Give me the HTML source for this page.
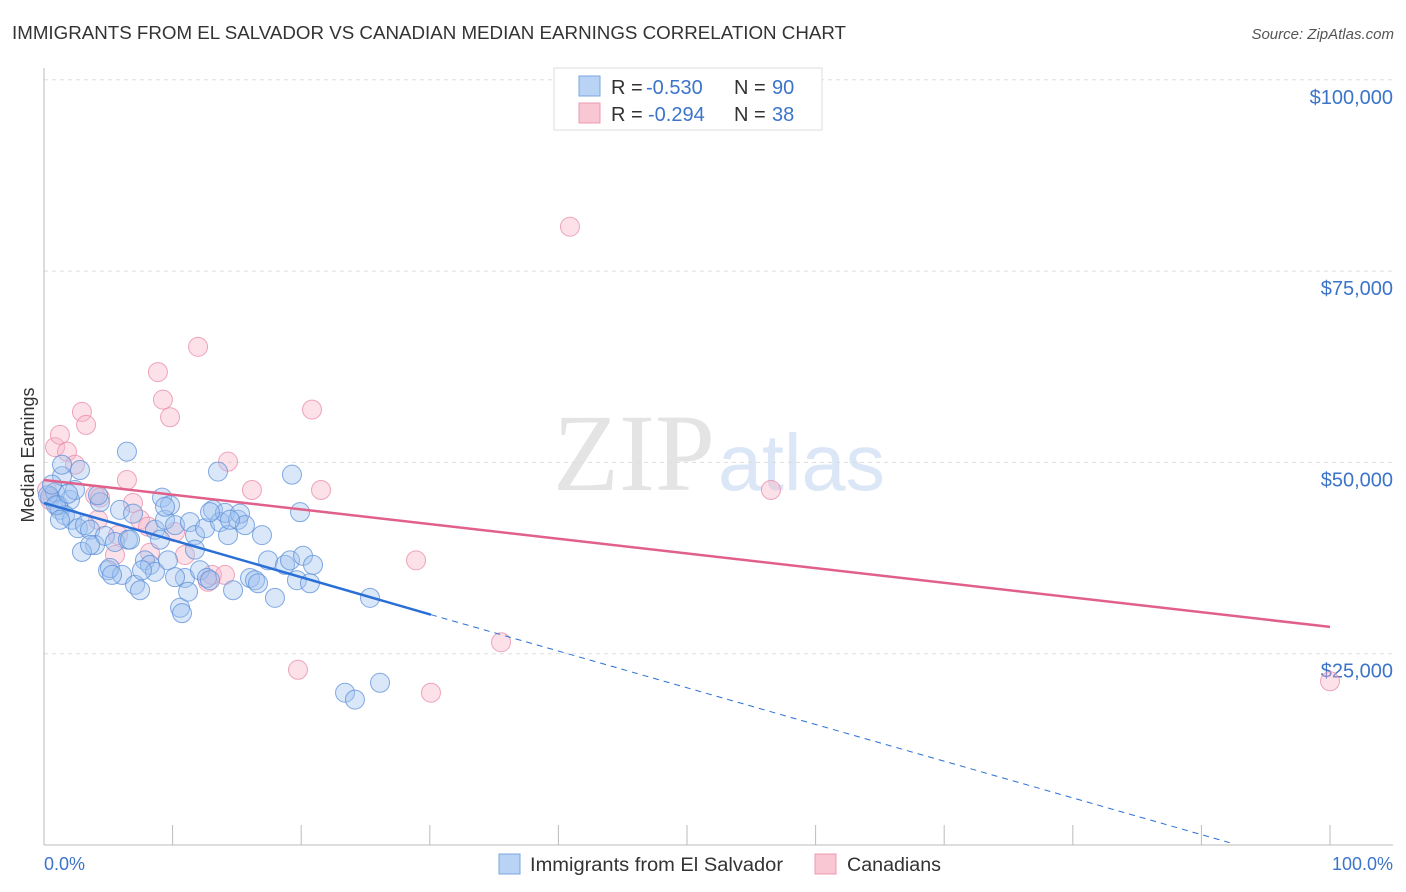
<!DOCTYPE html>
<html><head><meta charset="utf-8"><style>
body{margin:0;background:#fff;font-family:"Liberation Sans",sans-serif}
svg{display:block}
</style></head><body>
<svg id="chart" width="1406" height="892">
<text x="12" y="39" font-size="18" textLength="834" lengthAdjust="spacingAndGlyphs" fill="#333">IMMIGRANTS FROM EL SALVADOR VS CANADIAN MEDIAN EARNINGS CORRELATION CHART</text>
<text x="1394" y="39" font-size="15" fill="#555" font-style="italic" text-anchor="end">Source: ZipAtlas.com</text>
<g>
<text x="553" y="490" font-family="Liberation Serif,serif" font-size="110" textLength="162" lengthAdjust="spacingAndGlyphs" fill="#e4e4e4">ZIP</text>
<text x="718" y="490" font-size="80" textLength="167" lengthAdjust="spacingAndGlyphs" fill="#dbe6f6">atlas</text>
</g>
<g id="grid"></g>
<g id="yticks"></g>
<g id="xaxis"></g>
<text transform="translate(34,455) rotate(-90)" font-size="18" fill="#333" text-anchor="middle">Median Earnings</text>
<g id="pts"></g>
<g id="lines"></g>
<g>
<rect x="554" y="68" width="268" height="62" fill="#fff" stroke="#ddd"/>
<rect x="579" y="76" width="21" height="20" fill="#b9d3f5" stroke="#7aa6e3"/>
<text x="611" y="94" font-size="20" fill="#333">R = <tspan x="646" fill="#3b74c9">-0.530</tspan><tspan x="734">N = </tspan><tspan x="772" fill="#3b74c9">90</tspan></text>
<rect x="579" y="103" width="21" height="20" fill="#f9c6d4" stroke="#eb9ab2"/>
<text x="611" y="121" font-size="20" fill="#333">R = <tspan x="648" fill="#3b74c9">-0.294</tspan><tspan x="734">N = </tspan><tspan x="772" fill="#3b74c9">38</tspan></text>
</g>
<g>
<rect x="499" y="854" width="21" height="20" fill="#b9d3f5" stroke="#7aa6e3"/>
<text x="530" y="871" font-size="19" textLength="253" lengthAdjust="spacingAndGlyphs" fill="#333">Immigrants from El Salvador</text>
<rect x="815" y="854" width="21" height="20" fill="#f9c6d4" stroke="#eb9ab2"/>
<text x="847" y="871" font-size="19" textLength="94" lengthAdjust="spacingAndGlyphs" fill="#333">Canadians</text>
</g>
</svg>
<script>
const yTicks=[25000,50000,75000,100000];
const yTickLabels=["$25,000","$50,000","$75,000","$100,000"];
const xTicks=[0,10,20,30,40,50,60,70,80,90,100];
const blueX=[0.47,0.86,1.24,1.40,2.02,2.41,2.80,1.09,1.63,2.18,2.64,3.19,3.58,3.97,2.95,4.35,4.74,4.98,5.13,5.52,5.91,6.45,6.07,6.53,6.92,7.08,7.47,7.85,8.24,8.63,8.63,9.02,9.18,9.41,9.64,9.80,10.19,10.58,10.73,10.96,11.20,11.35,11.74,11.74,12.13,12.52,12.67,12.91,13.14,13.53,13.69,14.07,14.31,14.70,15.09,15.24,15.63,16.02,16.41,16.64,16.95,17.42,17.96,18.74,19.13,19.28,19.67,19.91,20.14,20.68,20.92,23.41,24.18,25.35,26.13,0.31,0.62,0.93,1.40,3.58,4.20,5.29,7.62,10.19,12.91,1.24,1.87,6.69,9.41,14.46];
const blueY=[45.5,46.1,43.8,48.2,45.1,46.4,49.0,44.4,43.1,42.5,41.4,41.8,41.2,39.2,38.3,44.8,40.4,35.9,36.2,39.6,43.8,51.4,35.3,39.9,43.3,34.0,33.3,37.2,36.6,35.7,41.2,39.9,45.4,42.5,37.2,44.4,41.8,31.0,30.3,34.9,33.1,42.2,40.5,38.6,35.9,41.4,34.9,34.6,43.8,48.8,42.2,43.4,40.5,33.3,42.5,43.3,41.8,34.9,34.6,34.2,40.5,37.2,32.3,36.6,37.2,48.4,34.6,43.5,37.8,34.2,36.6,19.9,19.0,32.3,21.2,45.7,47.1,44.4,49.7,39.2,45.7,35.3,35.9,35.0,43.5,42.5,45.9,39.9,44.2,42.5];
const pinkX=[0.23,0.47,0.86,1.24,1.79,2.41,2.95,3.27,3.97,4.20,4.35,5.52,5.75,6.45,6.92,7.47,8.09,8.24,8.86,9.25,9.80,10.19,10.96,11.98,12.75,13.06,14.07,14.31,16.17,19.75,20.84,21.54,28.93,30.09,35.54,40.90,56.53,100];
const pinkY=[46.4,45.1,52.0,53.6,51.4,49.7,56.6,54.9,45.7,42.5,45.4,37.9,40.5,47.7,44.7,42.5,41.6,38.2,61.8,58.2,55.9,40.9,37.9,65.1,34.4,35.3,35.3,50.1,46.4,22.9,56.9,46.4,37.2,19.9,26.5,80.8,46.4,21.4];
const blueTrendX=[0,30.09,92.2];
const blueTrendY=[44.7,30.1,0.3];
const pinkTrendX=[0,100];
const pinkTrendY=[47.7,28.5];

const NS="http://www.w3.org/2000/svg";
const X0=44,X1=1330,Y0=845,PXK=191.3/25;
const sx=v=>X0+(X1-X0)*v/100;
const sy=k=>Y0-k*PXK;
function mk(tag,attrs,parent){const e=document.createElementNS(NS,tag);for(const k in attrs)e.setAttribute(k,attrs[k]);parent.appendChild(e);return e;}
const grid=document.getElementById('grid'),yt=document.getElementById('yticks'),xa=document.getElementById('xaxis');
yTicks.forEach((t,i)=>{
  const y=sy(t/1000);
  const l=mk('line',{x1:X0,x2:1393,y1:y,y2:y,stroke:'#ddd','stroke-dasharray':'4,4'},grid);
  
  
  const tx=mk('text',{x:1393,y:y+24,'font-size':20,fill:'#3b74c9','text-anchor':'end'},yt);
  tx.textContent=yTickLabels[i];
  
  
});
const yl=mk('line',{x1:X0,x2:X0,y1:68,y2:Y0,stroke:'#bbb'},xa);


const xl=mk('line',{x1:X0,x2:1393,y1:Y0,y2:Y0,stroke:'#bbb'},xa);


xTicks.forEach(t=>{
  const x=sx(t);
  const l=mk('line',{x1:x,x2:x,y1:825,y2:Y0,stroke:'#bbb'},xa);
  
  
});
const xt0=mk('text',{x:44,y:870,'font-size':18,fill:'#3b74c9'},xa);xt0.textContent='0.0%';


const xt1=mk('text',{x:1393,y:870,'font-size':18,fill:'#3b74c9','text-anchor':'end'},xa);xt1.textContent='100.0%';



const pts=document.getElementById('pts');
pinkX.forEach((v,i)=>{
  const c=mk('circle',{cx:sx(v),cy:sy(pinkY[i]),r:9.5,fill:'rgba(247,180,200,0.4)',stroke:'rgba(232,138,168,0.75)','stroke-width':1},pts);
  
  
});
blueX.forEach((v,i)=>{
  const c=mk('circle',{cx:sx(v),cy:sy(blueY[i]),r:9.5,fill:'rgba(160,195,240,0.4)',stroke:'rgba(91,143,216,0.75)','stroke-width':1},pts);
  
  
});
const lines=document.getElementById('lines');
const pl=mk('line',{x1:sx(pinkTrendX[0]),y1:sy(pinkTrendY[0]),x2:sx(pinkTrendX[1]),y2:sy(pinkTrendY[1]),stroke:'#e0608a','stroke-width':2.5},lines);


const bl=mk('line',{x1:sx(blueTrendX[0]),y1:sy(blueTrendY[0]),x2:sx(blueTrendX[1]),y2:sy(blueTrendY[1]),stroke:'#2a6fd6','stroke-width':2.5},lines);


const bd=mk('line',{x1:sx(blueTrendX[1]),y1:sy(blueTrendY[1]),x2:sx(blueTrendX[2]),y2:sy(blueTrendY[2]),stroke:'#2a6fd6','stroke-width':1,'stroke-dasharray':'6,5'},lines);


</script>
</body></html>
